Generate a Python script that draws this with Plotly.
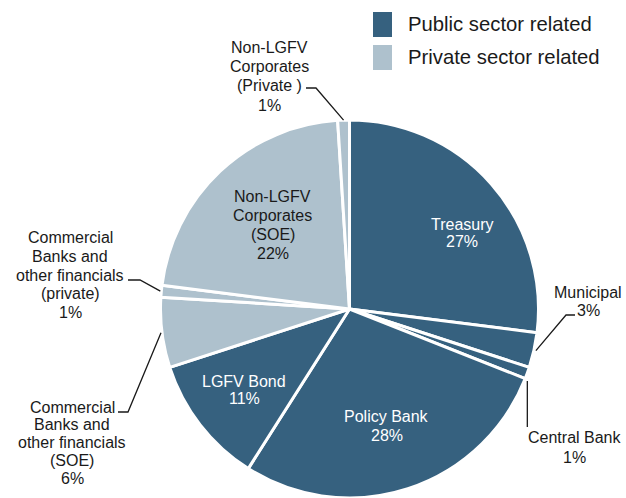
import math
import plotly.graph_objects as go

# data
labels = ["Treasury", "Municipal", "Central Bank", "Policy Bank", "LGFV Bond",
          "Commercial Banks and other financials (SOE)",
          "Commercial Banks and other financials (private)",
          "Non-LGFV Corporates (SOE)", "Non-LGFV Corporates (Private )"]
shares = [27, 3, 1, 28, 11, 6, 1, 22, 1]
sectors = ["Public", "Public", "Public", "Public", "Public",
           "Private", "Private", "Private", "Private"]
legend_names = ["Public sector related", "Private sector related"]

# how the labels are broken on the chart
label_lines = [
    ["Treasury"], ["Municipal"], ["Central Bank"], ["Policy Bank"], ["LGFV Bond"],
    ["Commercial", "Banks and", "other financials", "(SOE)"],
    ["Commercial", "Banks and", "other financials", "(private)"],
    ["Non-LGFV", "Corporates", "(SOE)"],
    ["Non-LGFV", "Corporates", "(Private )"],
]

colors = {"Public": "#36617f", "Private": "#aec1cd"}
FONT = "Liberation Sans, Arial, sans-serif"
W, H = 626, 498

# pie geometry in pixels
cx, cy, R = 349.5, 309, 189

def px(x):
    return x / W

def py(y):
    return 1 - y / H

def anchor(i, extra=0.0):
    mid = sum(shares[:i]) + shares[i] / 2
    ang = math.radians(mid / sum(shares) * 360)
    return cx + (R + extra) * math.sin(ang), cy - (R + extra) * math.cos(ang)

fig = go.Figure(go.Pie(
    labels=labels,
    values=shares,
    sort=False,
    direction="clockwise",
    rotation=0,
    marker=dict(colors=[colors[s] for s in sectors],
                line=dict(color="white", width=3)),
    textinfo="none",
    hoverinfo="label+percent",
    showlegend=False,
    domain=dict(x=[px(cx - R), px(cx + R)], y=[max(py(cy + R), 0), py(cy - R)]),
))

# label placement: centre x, first line y, line step (pixels), text colour
label_pos = [
    (462, 224, 17, "white"),
    (588, 292.5, 17.5, "#1a1a1a"),
    (574, 437.5, 19.5, "#1a1a1a"),
    (386.5, 416, 19, "white"),
    (244, 381, 17, "white"),
    (72, 407, 17.8, "#1a1a1a"),
    (70, 238, 18.6, "#1a1a1a"),
    (272.5, 196, 19, "#1a1a1a"),
    (269, 47.5, 19.2, "#1a1a1a"),
]

annotations = []
for lines, share, (x, y, step, col) in zip(label_lines, shares, label_pos):
    for k, t in enumerate(lines + [f"{share}%"]):
        annotations.append(dict(
            x=px(x), y=py(y + k * step), xref="paper", yref="paper",
            text=t, showarrow=False, xanchor="center", yanchor="middle",
            font=dict(family=FONT, size=16, color=col)))

# leader lines for the outside labels
a1 = anchor(1, 2)
a2 = anchor(2)
a5 = anchor(5, 1)
a6 = anchor(6, 1)
a8 = anchor(8, 0)
leaders = [
    [(575, 315), (566, 315), a1],
    [(a2[0], 427), (a2[0], a2[1] + 8)],
    [(118, 412), (128, 412), a5],
    [(128, 280), (140, 280), a6],
    [(306, 88), (316, 88), a8],
]
shapes = []
for pts in leaders:
    path = "M " + " L ".join(f"{px(x):.5f},{py(y):.5f}" for x, y in pts)
    shapes.append(dict(type="path", path=path, xref="paper", yref="paper",
                       line=dict(color="#1a1a1a", width=1.3)))

# legend drawn by hand (tall swatches)
for k, (name, sec) in enumerate(zip(legend_names, ["Public", "Private"])):
    top = 12 + k * 33
    shapes.append(dict(type="rect", xref="paper", yref="paper",
                       x0=px(373), x1=px(392), y0=py(top + 25), y1=py(top),
                       fillcolor=colors[sec], line=dict(width=0)))
    annotations.append(dict(
        x=px(406), y=py(top + 12.5), xref="paper", yref="paper", text=name,
        showarrow=False, xanchor="left", yanchor="middle",
        font=dict(family=FONT, size=20.3, color="#1a1a1a")))

fig.update_layout(
    width=W, height=H,
    margin=dict(l=0, r=0, t=0, b=0),
    paper_bgcolor="white",
    plot_bgcolor="white",
    annotations=annotations,
    shapes=shapes,
)

# drop the default page margin so the figure fills the window
fig.write_html("out.html", config={"displayModeBar": False},
               post_script="document.body.style.margin='0';")
